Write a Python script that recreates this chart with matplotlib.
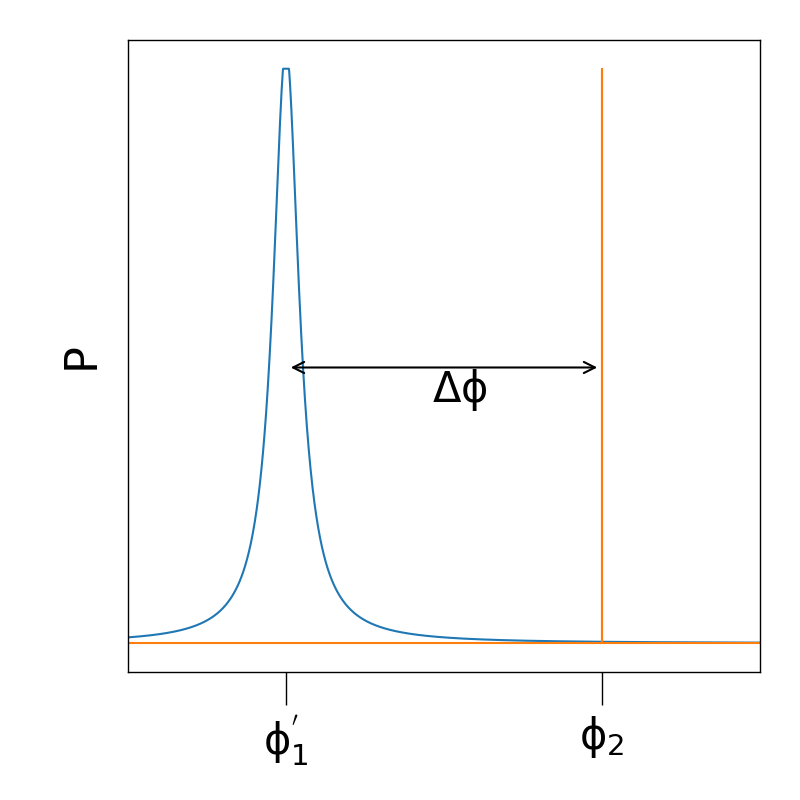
import numpy as np
import matplotlib
matplotlib.use("Agg")
import matplotlib.pyplot as plt

# Parameters
x_min, x_max = -1.0, 3.0
phi1_center = 0.0      # centre of the Lorentzian peak (phi_1')
gamma = 0.1            # half width at half maximum
peak_clip = 0.965      # the peak top is cut flat at this level
phi2 = 2.0             # position of the sharp line (phi_2)
n_samples = 2001
tick_positions = [phi1_center, phi2]
tick_labels = [r"$\mathrm{\phi}_1^{'}$", r"$\mathrm{\phi}_2$"]
arrow_level = 0.48
arrow_start = 0.03
arrow_end = 1.97
delta_label = r"$\mathrm{\Delta\phi}$"
delta_pos = (1.1, 0.44)

# Orange line: baseline with a delta-like spike at phi_2
orange_x = [x_min, phi2, phi2, phi2, x_max]
orange_y = [0.0, 0.0, 1.0, 0.0, 0.0]

x = np.linspace(x_min, x_max, n_samples)
lor = gamma**2 / ((x - phi1_center)**2 + gamma**2)
lor = np.minimum(lor, peak_clip) / peak_clip

fig = plt.figure(figsize=(8, 8), dpi=100)
ax = fig.add_axes([0.16, 0.16, 0.79, 0.79])
ax.plot(x, lor, color="#1f77b4", lw=1.5)
ax.plot(orange_x, orange_y, color="#ff7f0e", lw=1.5)
ax.set_xlim(x_min, x_max)
ax.set_ylim(-0.05, 1.05)

ax.set_xticks(tick_positions)
ax.set_xticklabels(tick_labels, fontsize=30)
ax.set_yticks([])
ax.tick_params(axis="x", length=24, width=1.0, pad=6)
for s in ax.spines.values():
    s.set_linewidth(1.0)
ax.set_ylabel("P", fontsize=32, labelpad=18)

ax.annotate("", xy=(arrow_start, arrow_level), xytext=(arrow_end, arrow_level),
            arrowprops=dict(arrowstyle="<->", color="black", lw=1.5,
                            shrinkA=0, shrinkB=0, mutation_scale=20))
ax.text(delta_pos[0], delta_pos[1], delta_label, fontsize=30,
        ha="center", va="center")

fig.savefig("out.png", dpi=100)
